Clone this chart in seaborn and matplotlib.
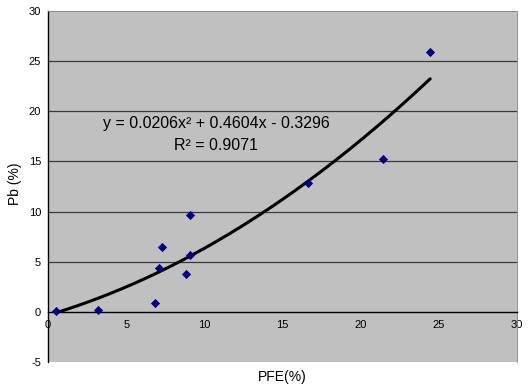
import numpy as np
import pandas as pd
import matplotlib
matplotlib.use("Agg")
import matplotlib.pyplot as plt
import seaborn as sns

# Data
pfe = [0.5, 3.2, 6.85, 7.1, 7.3, 8.8, 9.1, 9.1, 16.6, 21.4, 24.45]
pb = [0.05, 0.15, 0.9, 4.35, 6.45, 3.75, 9.7, 5.7, 12.8, 15.2, 25.9]
# Trendline coefficients (from the printed equation)
coef = [0.0206, 0.4604, -0.3296]
eq_line1 = "y = 0.0206x² + 0.4604x - 0.3296"
eq_line2 = "R² = 0.9071"
x_ticks = [0, 5, 10, 15, 20, 25, 30]
y_ticks = [-5, 0, 5, 10, 15, 20, 25, 30]

sns.set_style("white")
plt.rcParams['font.family'] = ['Liberation Sans', 'DejaVu Sans']
plt.rcParams['axes.unicode_minus'] = False
plt.rcParams['text.color'] = 'black'

fig = plt.figure(figsize=(5.28, 3.9), dpi=100)
ax = fig.add_axes([48/528, 1 - 362/390, (517-48)/528, (362-11)/390])
ax.set_facecolor('#C0C0C0')

df = pd.DataFrame({"PFE": pfe, "Pb": pb})
xs = np.linspace(min(pfe), max(pfe), 200)
trend = pd.DataFrame({"x": xs, "y": np.polyval(coef, xs)})

for yv in [5, 10, 15, 20, 25]:
    ax.axhline(yv, color='#3a3a3a', lw=0.9, zorder=1)

sns.lineplot(data=trend, x="x", y="y", ax=ax, color='black', lw=2.2, zorder=3)
sns.scatterplot(data=df, x="PFE", y="Pb", ax=ax, marker='D', s=22,
                color='#000080', edgecolor='#000080', linewidth=0, zorder=4)

ax.set_xlim(0, 30)
ax.set_ylim(-5, 30)
ax.set_xticks(x_ticks)
ax.set_yticks(y_ticks)
ax.tick_params(axis='both', labelsize=8, length=3, width=1, colors='black',
               labelcolor='black', direction='out', pad=2)
ax.tick_params(axis='x', pad=3)

ax.spines['bottom'].set_position(('data', 0))
ax.spines['bottom'].set_color('black')
ax.spines['left'].set_color('black')
ax.spines['top'].set_color('#808080')
ax.spines['right'].set_color('#808080')
for s in ['left', 'bottom']:
    ax.spines[s].set_linewidth(1)
for s in ['top', 'right']:
    ax.spines[s].set_linewidth(0.6)

ax.set_xlabel("")
ax.set_ylabel("")
fig.text(282/528, 1 - 377/390, "PFE(%)", ha='center', va='center', fontsize=10, color='black')
fig.text(15/528, 1 - 184/390, "Pb (%)", ha='center', va='center', rotation=90, fontsize=10, color='black')

ax.text(10.75, 18.75, eq_line1, ha='center', va='center', fontsize=11.5, color='black', zorder=5)
ax.text(10.75, 16.6, eq_line2, ha='center', va='center', fontsize=11.5, color='black', zorder=5)

fig.savefig("out.png", dpi=100, facecolor='white')
